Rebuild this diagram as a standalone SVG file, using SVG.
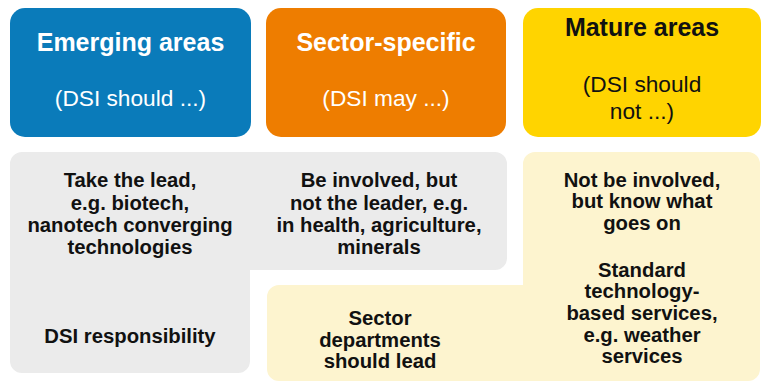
<svg xmlns="http://www.w3.org/2000/svg" width="763" height="383" viewBox="0 0 763 383">
<style>
.hd{font-family:"Liberation Sans",Arial,sans-serif;font-weight:bold;font-size:25px;text-anchor:middle}
.sub{font-family:"Liberation Sans",Arial,sans-serif;font-size:22.7px;text-anchor:middle}
.bd{font-family:"Liberation Sans",Arial,sans-serif;font-weight:bold;font-size:20.3px;text-anchor:middle;fill:#111}
.w{fill:#ffffff}
.k{fill:#111111}
</style>
<rect width="763" height="383" fill="#ffffff"/>
<g id="emerging-header">
<rect x="10" y="8" width="241" height="129" rx="15" fill="#0A7BBA"/>
<text class="hd w" x="130.5" y="51">Emerging areas</text>
<text class="sub w" x="130.5" y="106">(DSI should ...)</text>
</g>
<g id="sector-header">
<rect x="266" y="8" width="240" height="129" rx="15" fill="#EE7D00"/>
<text class="hd w" x="386" y="51">Sector-specific</text>
<text class="sub w" x="386" y="106">(DSI may ...)</text>
</g>
<g id="mature-header">
<rect x="523" y="8" width="238" height="129" rx="15" fill="#FFD400"/>
<text class="hd k" x="642" y="36">Mature areas</text>
<text class="sub k" x="642" y="92">(DSI should</text>
<text class="sub k" x="642" y="119">not ...)</text>
</g>
<g id="dsi-responsibility">
<path d="M22,152 H495 A12,12 0 0 1 507,164 V258 A12,12 0 0 1 495,270 H250 V361 A12,12 0 0 1 238,373 H22 A12,12 0 0 1 10,361 V164 A12,12 0 0 1 22,152 Z" fill="#EBEBEB"/>
<text class="bd" x="130" y="187">Take the lead,</text>
<text class="bd" x="130" y="210">e.g. biotech,</text>
<text class="bd" x="130" y="232">nanotech converging</text>
<text class="bd" x="130" y="254">technologies</text>
<text class="bd" x="130" y="343">DSI responsibility</text>
<text class="bd" x="379" y="187">Be involved, but</text>
<text class="bd" x="379" y="210">not the leader, e.g.</text>
<text class="bd" x="379" y="232">in health, agriculture,</text>
<text class="bd" x="379" y="254">minerals</text>
</g>
<g id="sector-departments">
<path d="M535,152 H748 A12,12 0 0 1 760,164 V369 A12,12 0 0 1 748,381 H279 A12,12 0 0 1 267,369 V297 A12,12 0 0 1 279,285 H523 V164 A12,12 0 0 1 535,152 Z" fill="#FDF4CF"/>
<text class="bd" x="380" y="325">Sector</text>
<text class="bd" x="380" y="347">departments</text>
<text class="bd" x="380" y="368">should lead</text>
<text class="bd" x="642" y="187">Not be involved,</text>
<text class="bd" x="642" y="208">but know what</text>
<text class="bd" x="642" y="230">goes on</text>
<text class="bd" x="642" y="277">Standard</text>
<text class="bd" x="642" y="298">technology-</text>
<text class="bd" x="642" y="320">based services,</text>
<text class="bd" x="642" y="342">e.g. weather</text>
<text class="bd" x="642" y="363">services</text>
</g>
</svg>
